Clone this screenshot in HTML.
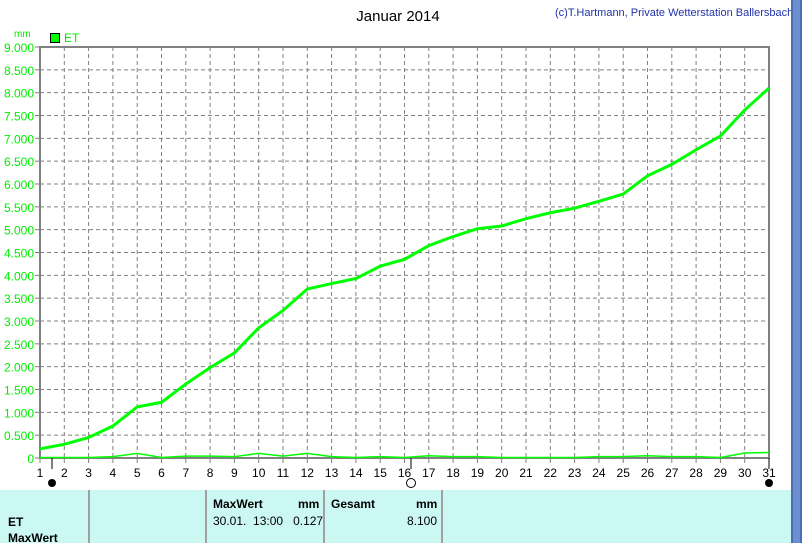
<!DOCTYPE html>
<html><head><meta charset="utf-8"><style>
body{margin:0;width:802px;height:543px;overflow:hidden;background:#fff;font-family:"Liberation Sans",sans-serif;position:relative}
.t{position:absolute;white-space:nowrap}
</style></head><body>
<svg width="802" height="543" style="position:absolute;left:0;top:0">
<text x="398" y="21" font-size="15" text-anchor="middle">Januar 2014</text>
<text x="555" y="16" font-size="11" fill="#2233aa">(c)T.Hartmann, Private Wetterstation Ballersbach</text>
<text x="14" y="37" font-size="10" fill="#00ee00">mm</text>
<rect x="50.5" y="33.5" width="9" height="9" fill="#00ff00" stroke="#000"/>
<text x="64" y="42" font-size="12" fill="#00ee00">ET</text>
<g id="grid"></g><g id="ylab"></g><g id="xlab"></g>
<rect x="40" y="47" width="729" height="411" fill="none" stroke="#808080" stroke-width="2"/>
<g id="series"></g>
<line x1="52" y1="458" x2="52" y2="469" stroke="#000"/>
<circle cx="52" cy="483" r="4" fill="#000"/>
<line x1="411" y1="458" x2="411" y2="469" stroke="#000"/>
<circle cx="411" cy="483" r="4.5" fill="#fff" stroke="#000"/>
<line x1="769" y1="458" x2="769" y2="469" stroke="#000"/>
<circle cx="769" cy="483" r="4" fill="#000"/>
<rect x="791" y="0" width="11" height="543" fill="#4a6fb8"/>
<rect x="793" y="0" width="7" height="543" fill="#6d8fd0"/>
</svg>
<div style="position:absolute;left:0;top:490px;width:791px;height:53px;background:#ccf8f4">
<div style="position:absolute;left:88px;top:0;width:2px;height:53px;background:#a0a0a0"></div>
<div style="position:absolute;left:205px;top:0;width:2px;height:53px;background:#a0a0a0"></div>
<div style="position:absolute;left:323px;top:0;width:2px;height:53px;background:#a0a0a0"></div>
<div style="position:absolute;left:441px;top:0;width:2px;height:53px;background:#a0a0a0"></div>
<div class="t" style="left:8px;top:25px;font-size:12px;font-weight:bold">ET</div>
<div class="t" style="left:8px;top:41px;font-size:12px;font-weight:bold">MaxWert</div>
<div class="t" style="left:213px;top:7px;font-size:12px;font-weight:bold">MaxWert</div>
<div class="t" style="left:298px;top:7px;font-size:12px;font-weight:bold">mm</div>
<div class="t" style="left:213px;top:24px;font-size:12px">30.01.&nbsp; 13:00&nbsp;&nbsp; 0.127</div>
<div class="t" style="left:331px;top:7px;font-size:12px;font-weight:bold">Gesamt</div>
<div class="t" style="left:416px;top:7px;font-size:12px;font-weight:bold">mm</div>
<div class="t" style="left:407px;top:24px;font-size:12px">8.100</div>
</div>
<script>
const days=[1,2,3,4,5,6,7,8,9,10,11,12,13,14,15,16,17,18,19,20,21,22,23,24,25,26,27,28,29,30,31];
const cumulative=[0.20,0.30,0.45,0.70,1.12,1.22,1.62,1.98,2.30,2.85,3.23,3.70,3.82,3.93,4.20,4.35,4.65,4.85,5.02,5.08,5.24,5.37,5.47,5.62,5.78,6.18,6.43,6.75,7.05,7.62,8.10];
const daily=[0.01,0.01,0.01,0.03,0.10,0.01,0.04,0.04,0.03,0.10,0.04,0.10,0.03,0.01,0.03,0.01,0.05,0.03,0.03,0.01,0.01,0.01,0.01,0.03,0.03,0.05,0.03,0.03,0.01,0.11,0.12];
const yTicks=[0,0.5,1,1.5,2,2.5,3,3.5,4,4.5,5,5.5,6,6.5,7,7.5,8,8.5,9];
const yLabels=["0","0.500","1.000","1.500","2.000","2.500","3.000","3.500","4.000","4.500","5.000","5.500","6.000","6.500","7.000","7.500","8.000","8.500","9.000"];
const NS="http://www.w3.org/2000/svg";
const X=d=>40+(d-1)*729/30, Y=v=>458-v*411/9;
function mk(t,a,p){const e=document.createElementNS(NS,t);for(const k in a)e.setAttribute(k,a[k]);p.appendChild(e);return e;}
const g=document.getElementById('grid'),yl=document.getElementById('ylab'),xl=document.getElementById('xlab'),s=document.getElementById('series');
yTicks.forEach((v,i)=>{
 if(v>0&&v<9){const l=mk('line',{x1:40,x2:769,y1:Y(v),y2:Y(v),stroke:'#808080','stroke-dasharray':'4,3'},g);
 
 }
 mk('line',{x1:35,x2:40,y1:Y(v),y2:Y(v),stroke:'#808080'},g);
 const t=mk('text',{x:34,y:Y(v)+5,'font-size':12,fill:'#00ee00','text-anchor':'end'},yl);t.textContent=yLabels[i];
 
 
});
days.forEach(d=>{
 if(d>1&&d<31){const l=mk('line',{x1:X(d),x2:X(d),y1:47,y2:458,stroke:'#808080','stroke-dasharray':'4,3'},g);
 
 }
 mk('line',{x1:X(d),x2:X(d),y1:458,y2:463,stroke:'#808080'},g);
 const t=mk('text',{x:X(d),y:477,'font-size':12,'text-anchor':'middle'},xl);t.textContent=d;
 
 
});
const p1=mk('polyline',{points:days.map((d,i)=>X(d)+','+Y(cumulative[i])).join(' '),fill:'none',stroke:'#00ff00','stroke-width':3},s);


const p2=mk('polyline',{points:days.map((d,i)=>X(d)+','+Y(daily[i])).join(' '),fill:'none',stroke:'#00ff00','stroke-width':1.5},s);


</script>
</body></html>
